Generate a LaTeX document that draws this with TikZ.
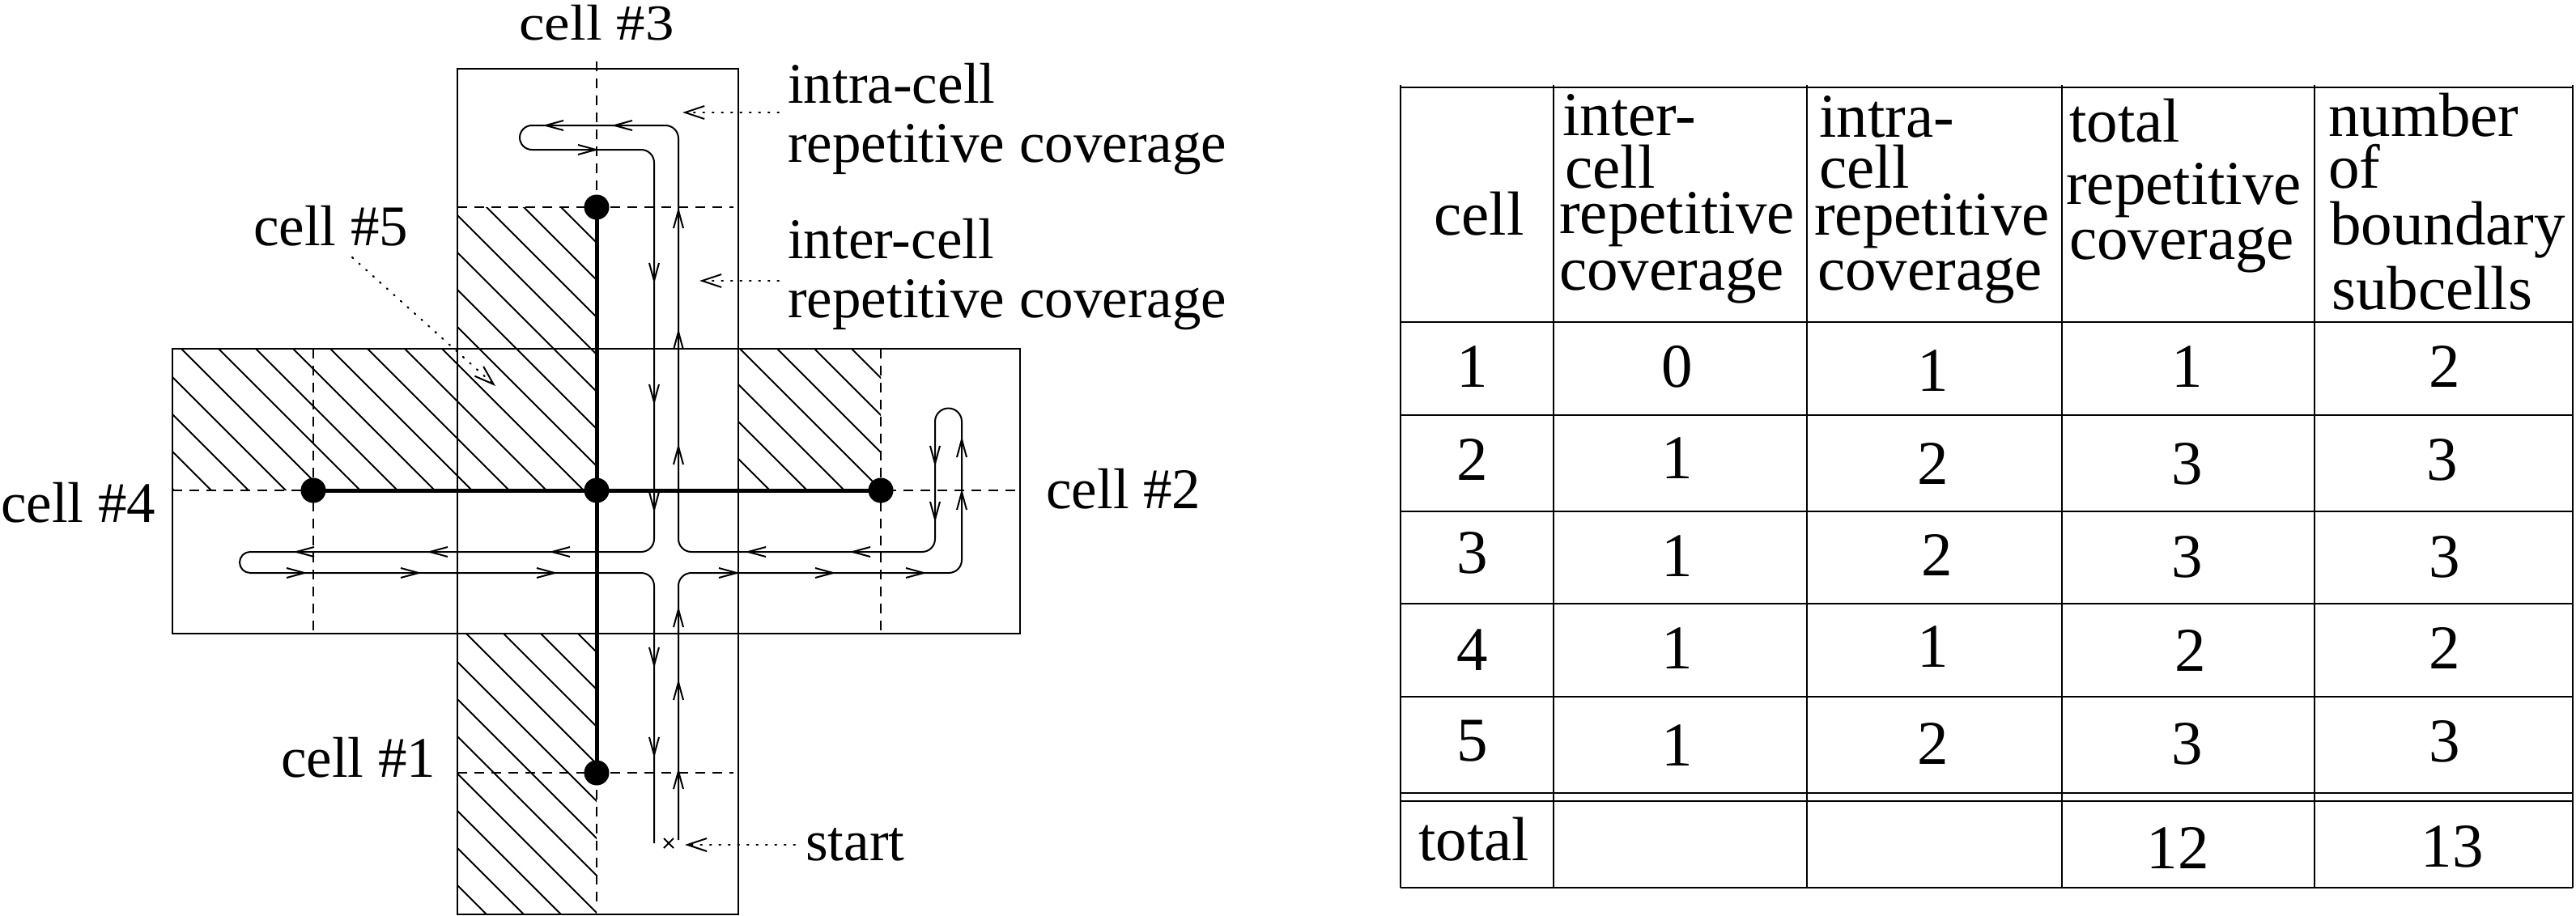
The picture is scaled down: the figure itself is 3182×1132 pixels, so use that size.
\documentclass[tikz,border=0pt]{standalone}
\usepackage{fontspec}
\setmainfont{Liberation Serif}
\usetikzlibrary{arrows.meta}
\newcommand{\lblfont}{\fontsize{71}{73}\selectfont}
\newcommand{\tabfont}{\fontsize{77}{79}\selectfont}
\begin{document}
\begin{tikzpicture}[x=1pt,y=1pt,
  boxln/.style={line width=2.2pt},
  dashln/.style={line width=1.8pt, dash pattern=on 12pt off 9pt},
  heavy/.style={line width=5pt},
  pathln/.style={line width=2pt},
  hatchln/.style={line width=1.8pt},
  dotarr/.style={line width=2.2pt, dash pattern=on 1.5pt off 10pt, line cap=round,
     -{Straight Barb[length=24pt,width=16pt,line width=2pt]}},
  lbl/.style={inner sep=0pt, font=\lblfont, anchor=base west},
  tlbl/.style={inner sep=0pt, font=\tabfont, anchor=base west},
  tnum/.style={inner sep=0pt, font=\tabfont, anchor=base},
  dot/.style={circle, fill=black, inner sep=0pt, minimum size=31pt},
  hline/.style={line width=2.6pt},
  vline/.style={line width=2pt}]
\newcommand{\ah}[3]{\draw[pathln,shift={(#1,-#2)},rotate=#3] (-22,6) -- (0,0) -- (-22,-6);}
\useasboundingbox (0,0) rectangle (3182,-1132);
\fill[white] (0,0) rectangle (3182,-1132);

% hatching
\begin{scope}
  \clip (213,-431) rectangle (737,-606)
        (565,-256) rectangle (737,-431)
        (912,-431) rectangle (1088,-606)
        (565,-783) rectangle (737,-1130);
  \foreach \c in {-1173,-1127,...,1300}
    \draw[hatchln] (\c,0) -- ++(1300,-1300);
\end{scope}

% cell rectangles
\draw[boxln] (565,-85) rectangle (912,-1130);
\draw[boxln] (213,-431) rectangle (1260,-783);

% dashed lines
\draw[dashln] (737,-76) -- (737,-256);
\draw[dashln] (737,-955) -- (737,-1117);
\draw[dashln] (565,-256) -- (906,-256);
\draw[dashln] (565,-955) -- (906,-955);
\draw[dashln] (213,-606) -- (1260,-606);
\draw[dashln] (387,-431) -- (387,-783);
\draw[dashln] (1088,-431) -- (1088,-783);

% graph nodes and edges
\node[dot] (n3) at (737,-256) {};
\node[dot] (n5) at (737,-606) {};
\node[dot] (n4) at (387,-606) {};
\node[dot] (n2) at (1088,-606) {};
\node[dot] (n1) at (737,-955) {};
\draw[heavy] (n3.center) -- (n1.center);
\draw[heavy] (n4.center) -- (n2.center);

% coverage path (pieces)
\coordinate (p0) at (838,-1038);
\coordinate (pe) at (808,-1042);
\draw[pathln, rounded corners=16pt] (p0) -- (838,-708) -- (1188,-708) -- (1188,-521);
\draw[pathln] (1188,-521) arc[start angle=0,end angle=180,radius=16.5];
\draw[pathln, rounded corners=16pt] (1155,-521) -- (1155,-682) -- (838,-682) -- (838,-155) -- (657,-155);
\draw[pathln] (657,-155) arc[start angle=90,end angle=270,radius=15];
\draw[pathln, rounded corners=16pt] (657,-185) -- (808,-185) -- (808,-682) -- (309,-682);
\draw[pathln] (309,-682) arc[start angle=90,end angle=270,radius=13];
\draw[pathln, rounded corners=16pt] (309,-708) -- (808,-708) -- (pe);

% path arrowheads
\ah{674}{155}{180} \ah{759}{155}{180} \ah{736}{185}{0}
\ah{808}{347}{270} \ah{808}{497}{270} \ah{808}{630}{270} \ah{808}{822}{270} \ah{808}{933}{270}
\ah{838}{260}{90} \ah{838}{410}{90} \ah{838}{552}{90} \ah{838}{753}{90} \ah{838}{843}{90} \ah{838}{953}{90}
\ah{1188}{543}{90} \ah{1188}{608}{90} \ah{1155}{573}{270} \ah{1155}{642}{270}
\ah{924}{682}{180} \ah{1053}{682}{180} \ah{366}{682}{180} \ah{531}{682}{180} \ah{682}{682}{180}
\ah{376}{708}{0} \ah{517}{708}{0} \ah{685}{708}{0} \ah{910}{708}{0} \ah{1029}{708}{0} \ah{1141}{708}{0}

% start mark
\coordinate (startpt) at (826,-1042);
\draw[pathln] ([shift={(-6,6)}]startpt) -- ([shift={(6,-6)}]startpt)
              ([shift={(-6,-6)}]startpt) -- ([shift={(6,6)}]startpt);

% labels
\node[inner sep=0pt, font=\lblfont, anchor=base] (c3) at (737,-50) {\scalebox{1}[0.88]{cell \#3}};
\node[lbl] (c5) at (313,-303) {cell \#5};
\node[lbl] (c4) at (1,-645) {cell \#4};
\node[lbl] (c2) at (1292,-628) {cell \#2};
\node[lbl] (c1) at (347,-960) {cell \#1};
\node[lbl] (intra1) at (973,-127) {intra-cell};
\node[lbl] (intra2) at (973,-200) {repetitive coverage};
\node[lbl] (inter1) at (973,-319) {inter-cell};
\node[lbl] (inter2) at (973,-392) {repetitive coverage};
\node[lbl] (st) at (995,-1063) {start};

% label pointers
\coordinate (c5s) at (435,-318);   \coordinate (c5t) at (612,-477);
\coordinate (intras) at (962,-139); \coordinate (intrat) at (843,-139);
\coordinate (inters) at (962,-347); \coordinate (intert) at (864,-347);
\coordinate (sts) at (982,-1044);   \coordinate (stt) at (846,-1044);
\draw[dotarr] (c5s) -- (c5t);
\draw[dotarr] (intras) -- (intrat);
\draw[dotarr] (inters) -- (intert);
\draw[dotarr] (sts) -- (stt);

% table grid
\foreach \yy in {108,398,513,632,746,861,980,990,1097}
  \draw[hline] (1730,-\yy) -- (3178,-\yy);
\foreach \xx in {1730,1919,2232,2547,2859,3178}
  \draw[vline] (\xx,-105) -- (\xx,-1097);

% table header
\node[tnum] (h1) at (1827,-290) {cell};
\node[tlbl] (h2a) at (1930,-167) {inter-};
\node[tlbl] (h2b) at (1933,-232) {cell};
\node[tlbl] (h2c) at (1926,-288) {repetitive};
\node[tlbl] (h2d) at (1926,-358) {coverage};
\node[tlbl] (h3a) at (2247,-169) {intra-};
\node[tlbl] (h3b) at (2247,-232) {cell};
\node[tlbl] (h3c) at (2241,-290) {repetitive};
\node[tlbl] (h3d) at (2245,-358) {coverage};
\node[tlbl] (h4a) at (2556,-175) {total};
\node[tlbl] (h4b) at (2552,-252) {repetitive};
\node[tlbl] (h4c) at (2556,-320) {coverage};
\node[tlbl] (h5a) at (2876,-168) {number};
\node[tlbl] (h5b) at (2876,-232) {of};
\node[tlbl] (h5c) at (2878,-302) {boundary};
\node[tlbl] (h5d) at (2880,-382) {subcells};

% table body
\node[tnum] (r1a) at (1819,-478) {1};
\node[tnum] (r1b) at (2072,-478) {0};
\node[tnum] (r1c) at (2388,-483) {1};
\node[tnum] (r1d) at (2702,-478) {1};
\node[tnum] (r1e) at (3020,-478) {2};
\node[tnum] (r2a) at (1819,-593) {2};
\node[tnum] (r2b) at (2072,-591) {1};
\node[tnum] (r2c) at (2388,-598) {2};
\node[tnum] (r2d) at (2702,-598) {3};
\node[tnum] (r2e) at (3017,-593) {3};
\node[tnum] (r3a) at (1819,-708) {3};
\node[tnum] (r3b) at (2072,-712) {1};
\node[tnum] (r3c) at (2393,-711) {2};
\node[tnum] (r3d) at (2702,-713) {3};
\node[tnum] (r3e) at (3020,-713) {3};
\node[tnum] (r4a) at (1819,-828) {4};
\node[tnum] (r4b) at (2072,-826) {1};
\node[tnum] (r4c) at (2388,-824) {1};
\node[tnum] (r4d) at (2706,-829) {2};
\node[tnum] (r4e) at (3020,-826) {2};
\node[tnum] (r5a) at (1819,-940) {5};
\node[tnum] (r5b) at (2072,-946) {1};
\node[tnum] (r5c) at (2388,-944) {2};
\node[tnum] (r5d) at (2702,-944) {3};
\node[tnum] (r5e) at (3020,-941) {3};
\node[tlbl] (tot) at (1752,-1063) {total};
\node[tnum] (tot4) at (2690,-1073) {12};
\node[tnum] (tot5) at (3029,-1071) {13};
\end{tikzpicture}
\end{document}
